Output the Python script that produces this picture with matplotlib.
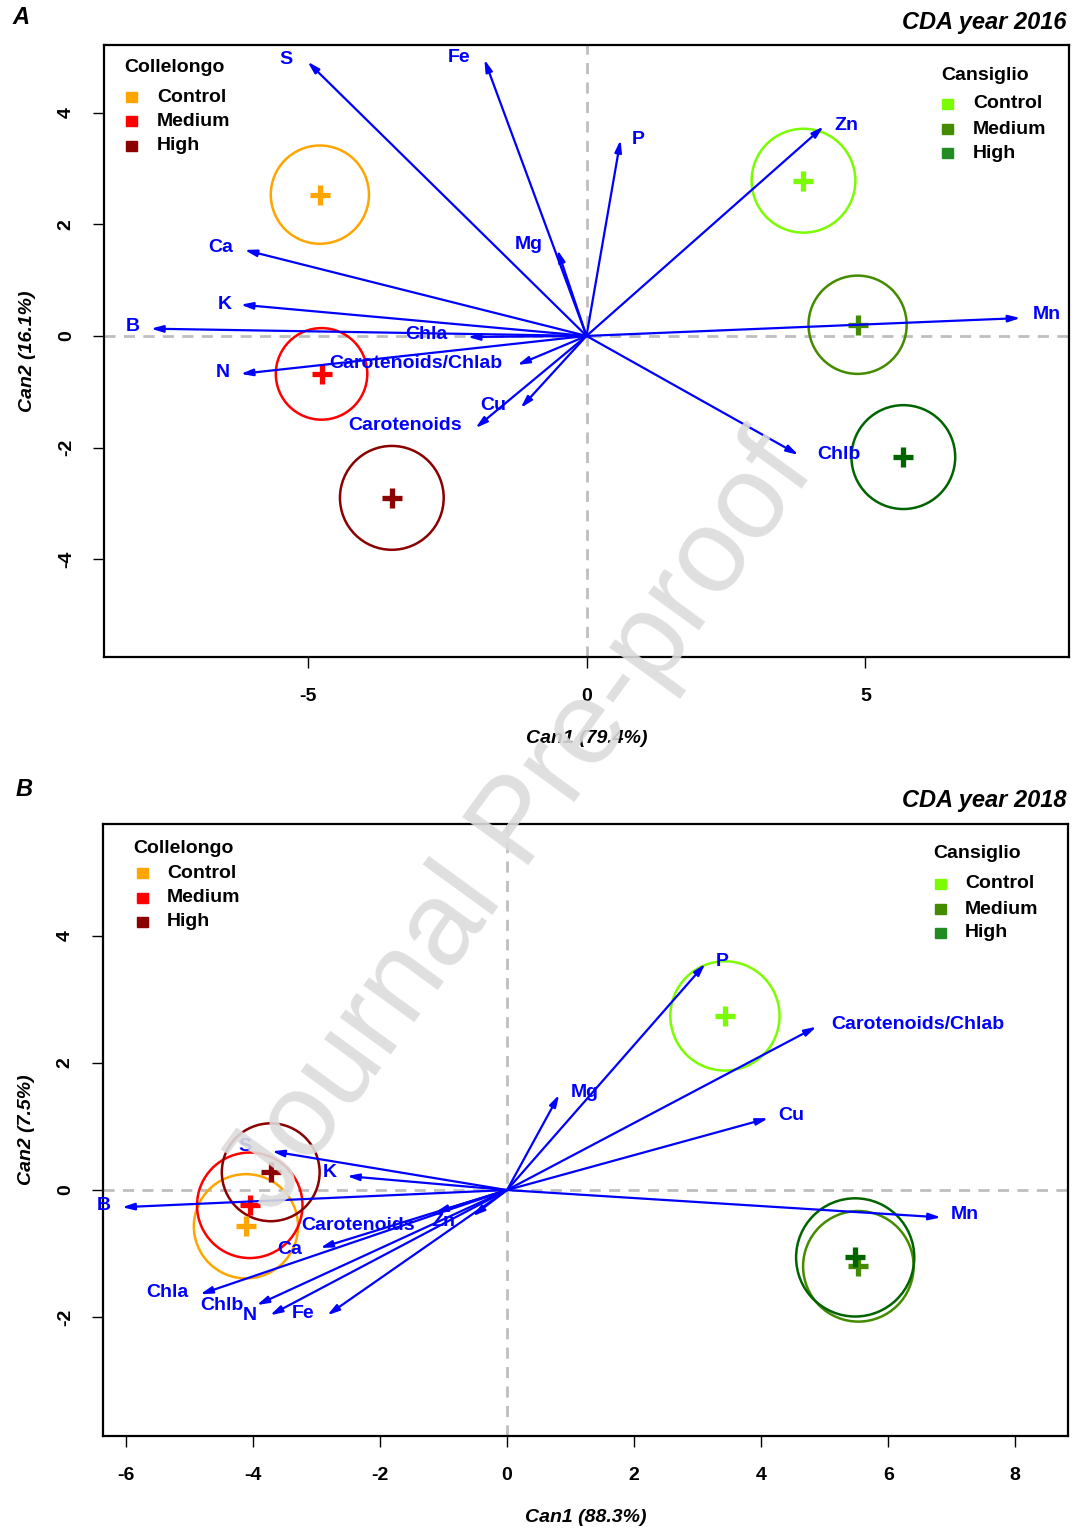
import matplotlib
matplotlib.use("Agg")
import matplotlib.pyplot as plt
from matplotlib.patches import Circle

plt.rcParams['font.family'] = ['Liberation Sans', 'DejaVu Sans']

# ---------------- Data: panel A (2016) ----------------
A_vars = ['S', 'Fe', 'P', 'Zn', 'Mg', 'Ca', 'K', 'B', 'Chla', 'N',
          'Carotenoids/Chlab', 'Cu', 'Carotenoids', 'Chlb', 'Mn']
A_x = [-5.00, -1.83, 0.61, 4.25, -0.52, -6.13, -6.20, -7.81, -2.13, -6.20,
       -1.24, -1.18, -1.99, 3.80, 7.78]
A_y = [4.91, 4.95, 3.51, 3.75, 1.54, 1.54, 0.56, 0.13, -0.02, -0.68,
       -0.52, -1.29, -1.65, -2.13, 0.32]
A_lab_x = [-5.39, -2.28, 0.93, 4.66, -1.04, -6.56, -6.49, -8.14, -2.87, -6.52,
           -3.06, -1.67, -3.26, 4.52, 8.26]
A_lab_y = [4.95, 4.98, 3.51, 3.76, 1.63, 1.59, 0.57, 0.16, 0.02, -0.65,
           -0.50, -1.25, -1.61, -2.13, 0.38]
A_grp_x = [-4.78, -4.75, -3.49, 3.89, 4.86, 5.68]
A_grp_y = [2.53, -0.68, -2.90, 2.78, 0.20, -2.17]
A_grp_r = [0.88, 0.82, 0.93, 0.93, 0.88, 0.93]

# ---------------- Data: panel B (2018) ----------------
B_vars = ['P', 'Carotenoids/Chlab', 'Mg', 'Cu', 'Mn', 'S', 'K', 'B',
          'Carotenoids', 'Zn', 'Ca', 'Chla', 'Chlb', 'N', 'Fe']
B_x = [3.12, 4.87, 0.82, 4.11, 6.83, -3.70, -2.52, -6.06, -1.13, -0.54,
       -2.94, -4.83, -3.94, -3.73, -2.83]
B_y = [3.56, 2.57, 1.50, 1.13, -0.43, 0.61, 0.22, -0.27, -0.35, -0.41,
       -0.91, -1.64, -1.81, -1.97, -1.97]
B_lab_x = [3.39, 6.46, 1.23, 4.47, 7.21, -4.13, -2.79, -6.35, -2.35, -1.01,
           -3.42, -5.35, -4.49, -4.05, -3.21]
B_lab_y = [3.59, 2.61, 1.53, 1.17, -0.39, 0.69, 0.28, -0.24, -0.55, -0.50,
           -0.93, -1.61, -1.81, -1.97, -1.94]
B_grp_x = [-4.11, -4.05, -3.72, 3.43, 5.53, 5.48]
B_grp_y = [-0.57, -0.24, 0.28, 2.74, -1.20, -1.06]
B_grp_r = [0.82, 0.83, 0.77, 0.86, 0.87, 0.93]

levels = ['Control', 'Medium', 'High']
sites = ['Collelongo', 'Cansiglio']
col_colors = ['#FFA500', '#FF0000', '#8B0000']
can_colors = ['#7CFC00', '#458B00', '#228B22']
can_mark_colors = ['#7CFC00', '#458B00', '#006400']
grp_colors = col_colors + can_mark_colors

FIG_W, FIG_H = 1075, 1535
fig = plt.figure(figsize=(FIG_W / 100, FIG_H / 100), dpi=100)


def px_axes(left, top, right, bottom):
    return fig.add_axes([left / FIG_W, 1 - bottom / FIG_H,
                         (right - left) / FIG_W, (bottom - top) / FIG_H])


def draw_panel(ax, vx, vy, vnames, lx, ly, gx, gy, gr, xlim, ylim,
               xticks, yticks, xlabel, ylabel):
    ax.set_xlim(*xlim)
    ax.set_ylim(*ylim)
    ax.axhline(0, color='#BEBEBE', lw=2, ls=(0, (4, 3)), zorder=1)
    ax.axvline(0, color='#BEBEBE', lw=2, ls=(0, (4, 3)), zorder=1)
    for i in range(len(gx)):
        ax.add_patch(Circle((gx[i], gy[i]), gr[i], fill=False,
                            ec=grp_colors[i], lw=1.8, zorder=2))
        ax.plot(gx[i], gy[i], marker='+', ms=15, mew=3.8,
                color=grp_colors[i], zorder=3)
    for i in range(len(vx)):
        ax.annotate('', xy=(vx[i], vy[i]), xytext=(0, 0),
                    arrowprops=dict(arrowstyle='-|>,head_length=0.7,head_width=0.2',
                                    color='#0000FF', lw=1.6,
                                    shrinkA=0, shrinkB=0), zorder=4)
        ax.text(lx[i], ly[i], vnames[i], color='#0000FF', fontsize=14,
                fontweight='bold', ha='center', va='center', zorder=5)
    ax.set_xticks(xticks)
    ax.set_yticks(yticks)
    ax.set_xticklabels([str(t) for t in xticks], fontsize=14, fontweight='bold')
    ax.set_yticklabels([str(t) for t in yticks], fontsize=14,
                       fontweight='bold', rotation=90, va='center')
    ax.tick_params(axis='x', length=8, width=1, pad=14)
    ax.tick_params(axis='y', length=8, width=1, pad=13)
    for s in ax.spines.values():
        s.set_linewidth(1.6)
    ax.set_xlabel(xlabel, fontsize=14, fontweight='bold', style='italic',
                  labelpad=18)
    ax.set_ylabel(ylabel, fontsize=14, fontweight='bold', style='italic',
                  labelpad=16)


def legend_block(ax, x_title, y_title, x_sq, x_txt, y_rows, title, colors):
    # positions given in figure pixels
    fig.text(x_title / FIG_W, 1 - y_title / FIG_H, title, fontsize=14,
             fontweight='bold', ha='left', va='center')
    for yy, lab, c in zip(y_rows, levels, colors):
        fig.text(x_txt / FIG_W, 1 - yy / FIG_H, lab, fontsize=14,
                 fontweight='bold', ha='left', va='center')
        fig.patches.append(plt.Rectangle(((x_sq - 5) / FIG_W, 1 - (yy + 5) / FIG_H),
                                         11 / FIG_W, 10 / FIG_H, color=c,
                                         transform=fig.transFigure,
                                         figure=fig))


# Panel A
axA = px_axes(104, 45, 1069, 657)
draw_panel(axA, A_x, A_y, A_vars, A_lab_x, A_lab_y, A_grp_x, A_grp_y, A_grp_r,
           (-8.65, 8.65), (-5.75, 5.21), [-5, 0, 5], [-4, -2, 0, 2, 4],
           'Can1 (79.4%)', 'Can2 (16.1%)')
legend_block(axA, 124, 67, 131, 157, [97, 121, 146], sites[0], col_colors)
legend_block(axA, 941, 75, 947, 973, [104, 129, 153], sites[1], can_colors)
fig.text(1067 / FIG_W, 1 - 22 / FIG_H, 'CDA year 2016', fontsize=17,
         fontweight='bold', style='italic', ha='right', va='center')
fig.text(12 / FIG_W, 1 - 18 / FIG_H, 'A', fontsize=17, fontweight='bold',
         style='italic', ha='left', va='center')

# Panel B
axB = px_axes(103, 824, 1068, 1436)
draw_panel(axB, B_x, B_y, B_vars, B_lab_x, B_lab_y, B_grp_x, B_grp_y, B_grp_r,
           (-6.36, 8.83), (-3.87, 5.76), [-6, -4, -2, 0, 2, 4, 6, 8],
           [-2, 0, 2, 4], 'Can1 (88.3%)', 'Can2 (7.5%)')
legend_block(axB, 133, 848, 142, 167, [873, 898, 922], sites[0], col_colors)
legend_block(axB, 933, 853, 940, 965, [884, 909, 933], sites[1], can_colors)
fig.text(1067 / FIG_W, 1 - 800 / FIG_H, 'CDA year 2018', fontsize=17,
         fontweight='bold', style='italic', ha='right', va='center')
fig.text(16 / FIG_W, 1 - 790 / FIG_H, 'B', fontsize=17, fontweight='bold',
         style='italic', ha='left', va='center')

# Watermark
fig.text(520 / FIG_W, 1 - 825 / FIG_H, 'Journal Pre-proof', fontsize=86,
         color='#DCDCDC', alpha=0.9, rotation=54, ha='center', va='center',
         rotation_mode='anchor', zorder=10)

fig.savefig('out.png', dpi=100)
